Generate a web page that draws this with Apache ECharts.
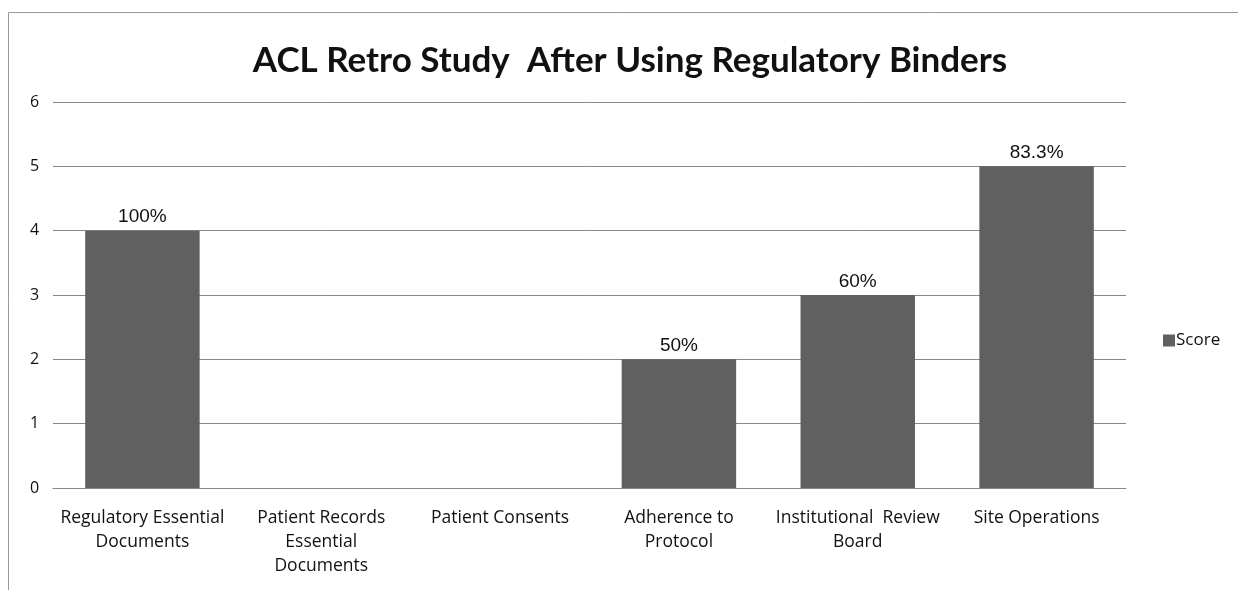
<!DOCTYPE html>
<html><head><meta charset="utf-8">
<script src="https://cdn.jsdelivr.net/npm/echarts@6/dist/echarts.min.js"></script>
<style>html,body{margin:0;padding:0;background:#fff}#c{width:1238px;height:590px}</style>
</head><body><div id="c"></div>
<script>
const titleText = 'ACL Retro Study  After Using Regulatory Binders';
const categories = ['Regulatory Essential\nDocuments', 'Patient Records\nEssential\nDocuments', 'Patient Consents', 'Adherence to\nProtocol', 'Institutional  Review\nBoard', 'Site Operations'];
const scores = [4, 0, 0, 2, 3, 5];
const pctLabels = ['100%', '', '', '50%', '60%', '83.3%'];
const seriesName = 'Score';

const chart = echarts.init(document.getElementById('c'));
chart.setOption({
  backgroundColor: '#fff',
  animation: false,
  title: {
    text: titleText, left: 625, top: 38, textAlign: 'center',
    textStyle: { fontFamily: 'Lato', fontWeight: 'bold', fontSize: 35, color: '#111' }
  },
  legend: {
    data: [seriesName], orient: 'vertical', left: 1158, top: 327,
    itemWidth: 12, itemHeight: 12, itemGap: 4,
    textStyle: { fontFamily: 'Open Sans', fontSize: 17, color: '#111', padding: [0,0,0,-4] },
    icon: 'rect'
  },
  grid: { left: 53, right: 112, top: 102, bottom: 102, containLabel: false },
  xAxis: {
    type: 'category', data: categories,
    axisLine: { lineStyle: { color: '#888', width: 1 } },
    axisTick: { show: false },
    axisLabel: { interval: 0, margin: 18, lineHeight: 24, fontFamily: 'Open Sans', fontSize: 17.5, color: '#111' }
  },
  yAxis: {
    type: 'value', min: 0, max: 6, interval: 1,
    axisLine: { show: false }, axisTick: { show: false },
    splitLine: { lineStyle: { color: '#888', width: 1 } },
    axisLabel: { margin: 20, fontFamily: 'Open Sans', fontSize: 16, color: '#111', align: 'left', padding: [0,0,0,-3] }
  },
  graphic: [{
    type: 'rect', shape: { x: 8.5, y: 12.5, width: 1260, height: 600 },
    style: { fill: 'none', stroke: '#999', lineWidth: 1 }, silent: true, z: -1
  }],
  series: [{
    name: seriesName, type: 'bar', data: scores, barCategoryGap: '36%',
    itemStyle: { color: '#606060' },
    label: {
      show: true, position: 'top', distance: 4,
      fontFamily: 'Liberation Sans', fontSize: 19, color: '#111',
      formatter: p => pctLabels[p.dataIndex]
    }
  }]
});
</script></body></html>
